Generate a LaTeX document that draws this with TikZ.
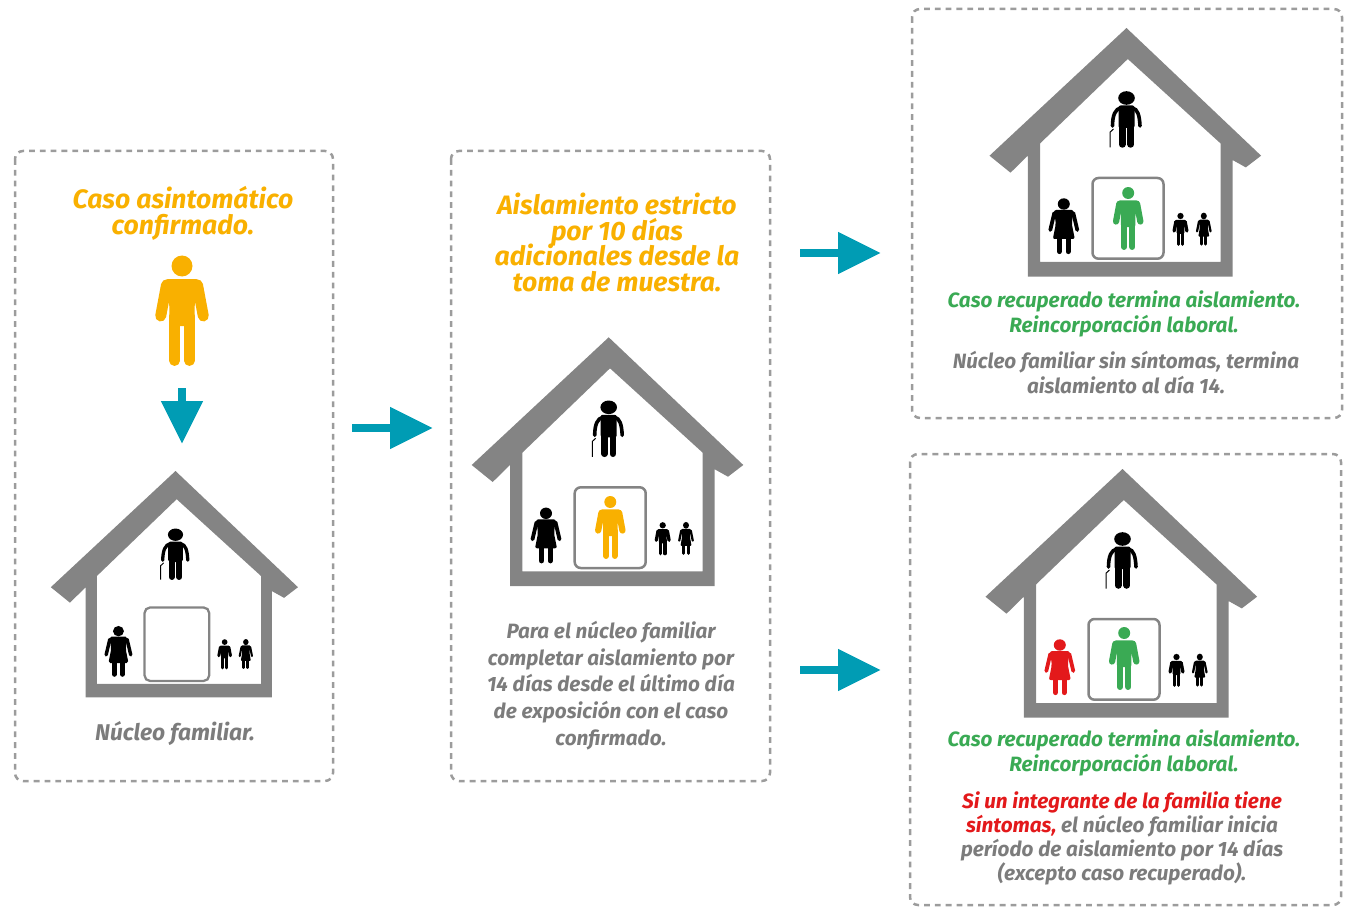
\documentclass[tikz,border=0pt]{standalone}
\usepackage{fontspec}
\setmainfont{Fira Sans}
\usepackage{xcolor}
\usetikzlibrary{arrows.meta}
\setlength{\lineskiplimit}{-20pt}
\setlength{\normallineskiplimit}{-20pt}
\definecolor{yellowcase}{HTML}{F9B000}
\definecolor{greencase}{HTML}{3AAA54}
\definecolor{redcase}{HTML}{E3191B}
\definecolor{greytext}{HTML}{7C7C7C}
\definecolor{greyhouse}{HTML}{848484}
\definecolor{greydash}{HTML}{9C9C9C}
\definecolor{tealarrow}{HTML}{009CB4}
\tikzstyle{dashbox} = [draw=greydash, line width=2.5pt, dash pattern=on 5.8pt off 5pt, rounded corners=8pt]
\tikzstyle{blockarrow} = [draw=tealarrow, line width=8pt, -{Triangle[length=43pt,width=40pt]}, tealarrow]
\tikzstyle{title} = [align=center, text=yellowcase, font=\fontsize{26.6}{25.5}\selectfont\bfseries\itshape]
\tikzstyle{note} = [align=center, text=greytext, font=\fontsize{20.7}{26.7}\selectfont\bfseries\itshape]
\tikzstyle{notebig} = [align=center, text=greytext, font=\fontsize{22.8}{26.7}\selectfont\bfseries\itshape]
\tikzstyle{noteb} = [align=center, text=greytext, font=\fontsize{20.7}{24.2}\selectfont\bfseries\itshape]
\tikzstyle{green} = [align=center, text=greencase, font=\fontsize{20.7}{25}\selectfont\bfseries\itshape]
% x, y of head centre, scale, colour
\newcommand{\manfig}[4]{
    \begin{scope}[shift={(#1,#2)},scale=#3]
        \fill[#4] (0,0) circle (10.5);
        \fill[#4,rounded corners=#3*4pt] (-18,13) -- (18,13) -- (21,24) -- (12.7,36) -- (12.7,60) -- (-12.7,60) -- (-12.7,36) -- (-21,24) -- cycle;
        \draw[#4,line width=#3*11pt,line cap=round] (-15.5,19) -- (-21.3,50);
        \draw[#4,line width=#3*11pt,line cap=round] (15.5,19) -- (21.3,50);
        \draw[#4,line width=#3*10.5pt,line cap=round] (-7.4,50) -- (-7.4,94.7);
        \draw[#4,line width=#3*10.5pt,line cap=round] (7.4,50) -- (7.4,94.7);
    \end{scope}
}
% x, y of head centre, x scale, y scale, colour
\newcommand{\womanfig}[5]{
    \begin{scope}[shift={(#1,#2)},xscale=#3,yscale=#4]
        \fill[#5] (0,0) ellipse (6 and 5.7);
        \fill[#5,rounded corners=#3*2pt] (-9.7,6) -- (9.7,6) -- (8,20) -- (11,35) -- (-11,35) -- (-8,20) -- cycle;
        \draw[#5,line width=#4*3.8pt,line cap=round] (-9.5,9) -- (-13.5,26);
        \draw[#5,line width=#4*3.8pt,line cap=round] (9.5,9) -- (13.5,26);
        \draw[#5,line width=#4*5.2pt,line cap=round] (-4.5,30) -- (-4.5,47.5);
        \draw[#5,line width=#4*5.2pt,line cap=round] (4.3,30) -- (4.3,47.5);
    \end{scope}
}
% x, y of head centre, scale
\newcommand{\oldfig}[3]{
    \begin{scope}[shift={(#1,#2)},scale=#3]
        \fill[black] (0,0) ellipse (8.3 and 6.8);
        \fill[black,rounded corners=#3*2pt] (-8,7.5) -- (8,7.5) -- (8,30) -- (-8,30) -- cycle;
        \draw[black,line width=#3*3.6pt,line cap=round] (-6,10) .. controls (-11,11) and (-14,17) .. (-14,28);
        \draw[black,line width=#3*3.6pt,line cap=round] (6,10) .. controls (11,11) and (13,17) .. (13.5,28);
        \draw[black,line width=#3*6.5pt,line cap=round] (-4.2,28) -- (-4.2,46.5);
        \draw[black,line width=#3*6.5pt,line cap=round] (4.2,28) -- (4.2,46.5);
        \draw[black,line width=#3*1pt] (-13,31) -- (-16.3,34) -- (-16.3,49.5);
    \end{scope}
}
% x, y of roof apex, scale, colour of the woman
\newcommand{\housefig}[4]{
    \begin{scope}[shift={(#1,#2)},scale=#3]
        \fill[greyhouse,even odd rule] (0,0) -- (-137,127.7) -- (-116,144.7) -- (-98.7,127.7) -- (-98.7,248.7) -- (106,248.7) -- (106,132) -- (119.3,139.4) -- (134.6,127.7) -- cycle
            (1.3,31) -- (-86.4,115.4) -- (-86.4,234) -- (94,234) -- (94,115.4) -- cycle;
        \draw[greyhouse,line width=#3*2.5pt,rounded corners=#3*6pt] (-34,150) rectangle (37,230.7);
    \end{scope}
    \oldfig{#1}{#2+70*#3}{#3}
    \womanfig{#1-62.7*#3}{#2+176*#3}{#3}{#3}{#4}
    \manfig{#1+54*#3}{#2+188*#3}{.3*#3}{black}
    \womanfig{#1+77.3*#3}{#2+188*#3}{.5*#3}{.59*#3}{black}
}
\begin{document}
\begin{tikzpicture}[x=1pt,y=-1pt]
    \useasboundingbox (0,0) rectangle (1347,912);
    % dashed boxes
    \draw[dashbox] (15,151) rectangle (333,781);
    \draw[dashbox] (451,151) rectangle (770,781);
    \draw[dashbox] (912,9) rectangle (1342,418);
    \draw[dashbox] (910,454) rectangle (1341,905);
    % first box
    \node[title] (casotitle) at (183,213.5) {Caso asintomático\\confirmado.};
    \manfig{182}{266}{1}{yellowcase}
    \housefig{175.5}{471}{.91}{black}
    \node[notebig] (nucleo) at (175,733.5) {Núcleo familiar.};
    % second box
    \node[title] (aislatitle) at (617,242.5) {Aislamiento estricto\\por 10 días\\adicionales desde la\\toma de muestra.};
    \housefig{608.7}{337.3}{1}{black}
    \manfig{610.3}{502}{.57}{yellowcase}
    \node[note] (aislanote) at (611,685.5) {Para el núcleo familiar\\completar aislamiento por\\14 días desde el último día\\de exposición con el caso\\confirmado.};
    % top right box
    \housefig{1126.5}{28}{1}{black}
    \manfig{1128.2}{193}{.57}{greencase}
    \node[green] (recupa) at (1124,314) {Caso recuperado termina aislamiento.\\Reincorporación laboral.};
    \node[noteb] (sinsint) at (1126,372.5) {Núcleo familiar sin síntomas, termina\\aislamiento al día 14.};
    % bottom right box
    \housefig{1122.5}{469}{1}{redcase}
    \manfig{1124.2}{633}{.57}{greencase}
    \node[green] (recupb) at (1124,753) {Caso recuperado termina aislamiento.\\Reincorporación laboral.};
    \node[noteb] (consint) at (1122,838.5) {\textcolor{redcase}{Si un integrante de la familia tiene}\\\textcolor{redcase}{síntomas,} el núcleo familiar inicia\\período de aislamiento por 14 días\\(excepto caso recuperado).};
    % arrows
    \coordinate (downa) at (182,388);
    \coordinate (downb) at (182,444);
    \coordinate (firsta) at (352,428);
    \coordinate (firstb) at (433,428);
    \coordinate (topa) at (800,253);
    \coordinate (topb) at (881,253);
    \coordinate (lowa) at (800,670);
    \coordinate (lowb) at (881,670);
    \draw[blockarrow] (downa) -- (downb);
    \draw[blockarrow] (firsta) -- (firstb);
    \draw[blockarrow] (topa) -- (topb);
    \draw[blockarrow] (lowa) -- (lowb);
\end{tikzpicture}
\end{document}
